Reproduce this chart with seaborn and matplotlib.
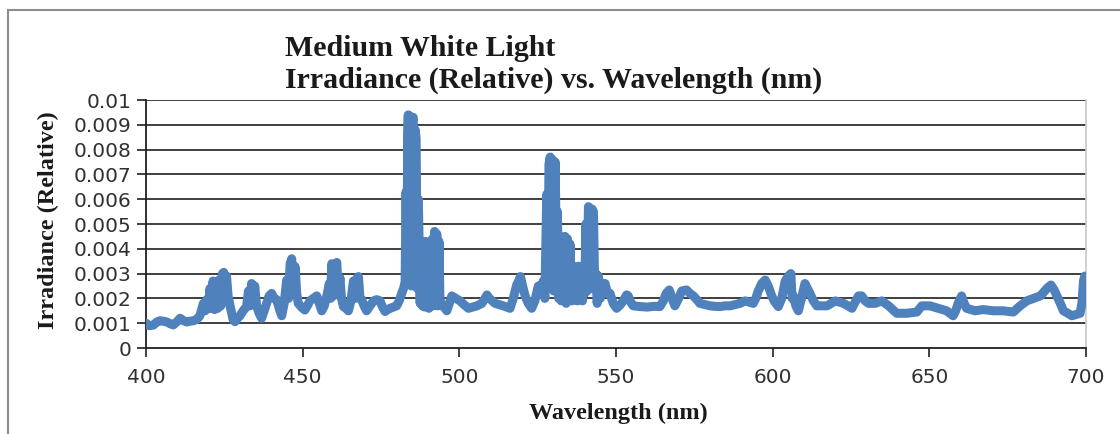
import numpy as np
import pandas as pd
import matplotlib
matplotlib.use("Agg")
import matplotlib.pyplot as plt
from matplotlib.patches import Rectangle
import seaborn as sns

# spectrum (nm, relative irradiance)
wavelength_nm = [
    400.0, 401.0, 402.3, 403.5, 404.5, 405.5, 406.6, 407.7, 408.7, 409.8,
    410.9, 412.0, 413.0, 414.0, 415.1, 416.2, 417.2, 418.3, 418.9, 419.4,
    419.9, 420.4, 420.9, 421.4, 421.9, 422.4, 422.9, 423.4, 423.9, 424.4,
    424.8, 425.3, 425.7, 426.2, 427.0, 427.8, 428.4, 429.2, 430.0, 431.0,
    432.1, 432.7, 433.2, 433.7, 434.2, 434.7, 435.3, 436.1, 436.9, 437.7,
    438.5, 439.3, 440.1, 440.9, 441.7, 442.5, 443.3, 444.1, 444.9, 445.5,
    446.0, 446.5, 447.0, 447.6, 448.1, 448.6, 449.6, 450.7, 451.5, 452.3,
    453.4, 454.5, 455.3, 456.1, 456.9, 457.7, 458.5, 458.9, 459.3, 459.8,
    460.3, 460.9, 461.4, 461.9, 462.4, 463.0, 463.8, 464.6, 465.4, 466.2,
    466.7, 467.3, 467.8, 468.3, 468.8, 469.6, 470.4, 471.5, 472.6, 473.6,
    474.7, 475.5, 476.3, 477.1, 477.9, 479.0, 480.0, 480.8, 481.6, 482.2,
    482.7, 483.0, 483.3, 483.5, 483.7, 484.0, 484.3, 484.7, 485.0, 485.3,
    485.6, 485.9, 486.2, 486.6, 486.9, 487.2, 487.5, 487.8, 488.2, 488.5,
    488.9, 489.2, 489.6, 489.9, 490.3, 490.6, 491.0, 491.4, 491.7, 492.1,
    492.5, 492.8, 493.2, 493.5, 493.8, 494.3, 494.9, 496.0, 496.8, 497.6,
    498.9, 500.2, 501.5, 502.9, 504.2, 505.6, 507.2, 508.2, 508.8, 509.6,
    510.5, 511.4, 512.7, 514.0, 515.1, 516.2, 517.2, 518.3, 518.9, 519.5,
    520.2, 521.0, 522.0, 523.1, 524.1, 525.2, 526.0, 526.8, 527.3, 527.9,
    528.3, 528.6, 529.0, 529.3, 529.7, 530.1, 530.6, 531.0, 531.3, 531.7,
    532.1, 532.5, 532.9, 533.3, 533.7, 534.1, 534.5, 534.9, 535.3, 535.9,
    536.3, 536.7, 537.1, 537.6, 538.0, 538.4, 538.9, 539.3, 539.6, 540.0,
    540.4, 540.8, 541.2, 541.6, 542.0, 542.4, 542.8, 543.2, 543.6, 544.0,
    544.4, 545.0, 545.6, 546.5, 547.3, 548.1, 549.1, 550.2, 551.3, 552.3,
    553.4, 553.9, 554.7, 555.5, 557.7, 560.0, 562.0, 564.0, 565.1, 566.0,
    567.0, 567.9, 568.8, 570.0, 571.0, 572.5, 573.6, 574.7, 575.8, 576.8,
    578.4, 580.0, 581.6, 583.2, 584.8, 586.4, 588.0, 589.6, 591.2, 592.5,
    593.8, 594.6, 595.4, 596.5, 597.6, 598.6, 599.7, 600.7, 601.8, 602.9,
    604.0, 605.0, 605.8, 606.2, 606.6, 607.4, 608.2, 609.2, 610.3, 611.1,
    611.9, 613.0, 614.1, 615.7, 617.3, 618.7, 620.0, 621.3, 622.6, 624.0,
    625.3, 626.3, 627.4, 628.4, 629.5, 630.6, 632.7, 634.8, 635.9, 637.0,
    638.3, 639.6, 642.8, 646.0, 647.6, 650.2, 652.9, 655.5, 657.6, 658.4,
    659.2, 660.3, 661.1, 661.9, 664.6, 667.2, 670.4, 673.6, 676.8, 679.0,
    681.1, 683.2, 685.4, 686.5, 687.5, 688.8, 689.8, 690.7, 691.8, 692.8,
    694.2, 695.5, 696.8, 698.1, 698.7, 699.2, 699.6, 700.0,
]
irradiance = [
    0.00100, 0.00090, 0.00092, 0.00105, 0.00110, 0.00108, 0.00105, 0.00098, 0.00093, 0.00105,
    0.00120, 0.00110, 0.00105, 0.00108, 0.00110, 0.00115, 0.00130, 0.00180, 0.00150, 0.00195,
    0.00160, 0.00240, 0.00160, 0.00270, 0.00155, 0.00265, 0.00160, 0.00275, 0.00170, 0.00300,
    0.00305, 0.00200, 0.00290, 0.00210, 0.00160, 0.00115, 0.00106, 0.00120, 0.00130, 0.00150,
    0.00167, 0.00230, 0.00170, 0.00260, 0.00180, 0.00250, 0.00170, 0.00140, 0.00120, 0.00150,
    0.00180, 0.00210, 0.00220, 0.00200, 0.00195, 0.00160, 0.00130, 0.00180, 0.00274, 0.00200,
    0.00340, 0.00360, 0.00250, 0.00328, 0.00220, 0.00180, 0.00165, 0.00153, 0.00170, 0.00190,
    0.00200, 0.00210, 0.00180, 0.00150, 0.00170, 0.00210, 0.00260, 0.00200, 0.00340, 0.00210,
    0.00330, 0.00345, 0.00220, 0.00283, 0.00200, 0.00167, 0.00160, 0.00150, 0.00190, 0.00270,
    0.00200, 0.00280, 0.00288, 0.00200, 0.00195, 0.00170, 0.00150, 0.00170, 0.00190, 0.00195,
    0.00190, 0.00165, 0.00147, 0.00155, 0.00160, 0.00165, 0.00170, 0.00190, 0.00220, 0.00240,
    0.00267, 0.00630, 0.00260, 0.00850, 0.00940, 0.00270, 0.00935, 0.00250, 0.00920, 0.00930,
    0.00260, 0.00880, 0.00845, 0.00240, 0.00600, 0.00410, 0.00180, 0.00430, 0.00170, 0.00425,
    0.00165, 0.00430, 0.00170, 0.00420, 0.00160, 0.00400, 0.00180, 0.00440, 0.00170, 0.00470,
    0.00180, 0.00460, 0.00170, 0.00430, 0.00200, 0.00170, 0.00170, 0.00150, 0.00180, 0.00210,
    0.00200, 0.00190, 0.00175, 0.00160, 0.00165, 0.00170, 0.00180, 0.00200, 0.00214, 0.00200,
    0.00190, 0.00180, 0.00175, 0.00170, 0.00165, 0.00160, 0.00200, 0.00254, 0.00270, 0.00288,
    0.00250, 0.00210, 0.00180, 0.00160, 0.00190, 0.00250, 0.00230, 0.00270, 0.00200, 0.00620,
    0.00250, 0.00740, 0.00770, 0.00240, 0.00760, 0.00230, 0.00750, 0.00300, 0.00550, 0.00200,
    0.00450, 0.00190, 0.00440, 0.00200, 0.00450, 0.00180, 0.00440, 0.00200, 0.00420, 0.00190,
    0.00330, 0.00200, 0.00320, 0.00190, 0.00330, 0.00200, 0.00310, 0.00190, 0.00300, 0.00220,
    0.00500, 0.00230, 0.00570, 0.00560, 0.00240, 0.00560, 0.00550, 0.00250, 0.00300, 0.00180,
    0.00290, 0.00200, 0.00260, 0.00260, 0.00220, 0.00220, 0.00180, 0.00160, 0.00173, 0.00190,
    0.00214, 0.00210, 0.00185, 0.00170, 0.00167, 0.00165, 0.00168, 0.00167, 0.00190, 0.00220,
    0.00234, 0.00200, 0.00170, 0.00200, 0.00230, 0.00234, 0.00220, 0.00210, 0.00195, 0.00180,
    0.00175, 0.00170, 0.00168, 0.00167, 0.00170, 0.00170, 0.00175, 0.00180, 0.00190, 0.00185,
    0.00180, 0.00200, 0.00230, 0.00260, 0.00274, 0.00250, 0.00210, 0.00185, 0.00167, 0.00200,
    0.00270, 0.00290, 0.00300, 0.00200, 0.00210, 0.00170, 0.00150, 0.00200, 0.00260, 0.00240,
    0.00220, 0.00190, 0.00170, 0.00170, 0.00170, 0.00180, 0.00190, 0.00185, 0.00180, 0.00170,
    0.00160, 0.00185, 0.00210, 0.00210, 0.00190, 0.00180, 0.00180, 0.00190, 0.00180, 0.00170,
    0.00155, 0.00140, 0.00140, 0.00145, 0.00170, 0.00170, 0.00160, 0.00150, 0.00130, 0.00150,
    0.00180, 0.00210, 0.00180, 0.00160, 0.00150, 0.00155, 0.00150, 0.00150, 0.00145, 0.00170,
    0.00190, 0.00200, 0.00210, 0.00225, 0.00240, 0.00254, 0.00235, 0.00210, 0.00180, 0.00150,
    0.00140, 0.00130, 0.00135, 0.00140, 0.00180, 0.00270, 0.00290, 0.00250,
]

x_ticks = [400, 450, 500, 550, 600, 650, 700]
y_ticks = [0, 0.001, 0.002, 0.003, 0.004, 0.005, 0.006, 0.007, 0.008, 0.009, 0.01]
y_tick_labels = ["0", "0.001", "0.002", "0.003", "0.004", "0.005",
                 "0.006", "0.007", "0.008", "0.009", "0.01"]

LINE_COLOR = "#4F81BD"
SERIF = ["Liberation Serif", "DejaVu Serif"]

sns.set_theme(style="white")
plt.rcParams["font.family"] = ["DejaVu Sans"]

df = pd.DataFrame({"wavelength": wavelength_nm, "irradiance": irradiance})

fig = plt.figure(figsize=(11.2, 4.34), dpi=100)
ax = fig.add_axes([146 / 1120, 1 - 348 / 434, 940 / 1120, 248 / 434])

sns.lineplot(data=df, x="wavelength", y="irradiance", estimator=None, ax=ax,
             color=LINE_COLOR, linewidth=6.5, zorder=3,
             solid_joinstyle="round", solid_capstyle="round")

ax.set_xlim(400, 700)
ax.set_ylim(0, 0.01)
ax.set_xticks(x_ticks)
ax.set_yticks(y_ticks)
ax.set_yticklabels(y_tick_labels)

# Excel style: dark horizontal gridlines, no vertical grid
ax.grid(False)
for v in y_ticks[1:]:
    ax.axhline(v, color="#303030", lw=1.3, zorder=1)

ax.spines["top"].set_visible(False)
ax.spines["right"].set_color("#c8c8c8")
ax.spines["right"].set_linewidth(1.2)
ax.spines["left"].set_color("#202020")
ax.spines["bottom"].set_color("#202020")
ax.spines["left"].set_linewidth(1.3)
ax.spines["bottom"].set_linewidth(1.3)

ax.tick_params(axis="both", which="major", direction="out", length=6.5, width=1.2,
               color="#202020", labelsize=14.5, labelcolor="#303030",
               left=True, bottom=True)
ax.tick_params(axis="y", pad=4)
ax.tick_params(axis="x", pad=8)

ax.set_xlabel("")
ax.set_ylabel("")
fig.text(618 / 1120, 1 - 413 / 434, "Wavelength (nm)", ha="center", va="center",
         fontsize=17.5, fontweight="bold", family=SERIF, color="#1a1a1a")
fig.text(48 / 1120, 1 - 220 / 434, "Irradiance (Relative)", ha="center", va="center",
         rotation=90, fontsize=17.5, fontweight="bold", family=SERIF, color="#1a1a1a")

fig.text(285 / 1120, 1 - 35 / 434, "Medium White Light\nIrradiance (Relative) vs. Wavelength (nm)",
         ha="left", va="top", fontsize=21.5, fontweight="bold", family=SERIF,
         color="#1a1a1a", linespacing=1.2)

# chart outer frame
fig.add_artist(Rectangle((8 / 1120, -0.2), 1.2, 1.2 - 10 / 434,
                         transform=fig.transFigure, fill=False,
                         edgecolor="#8c8c8c", lw=1.5))

fig.savefig("out.png", dpi=100, facecolor="white")
